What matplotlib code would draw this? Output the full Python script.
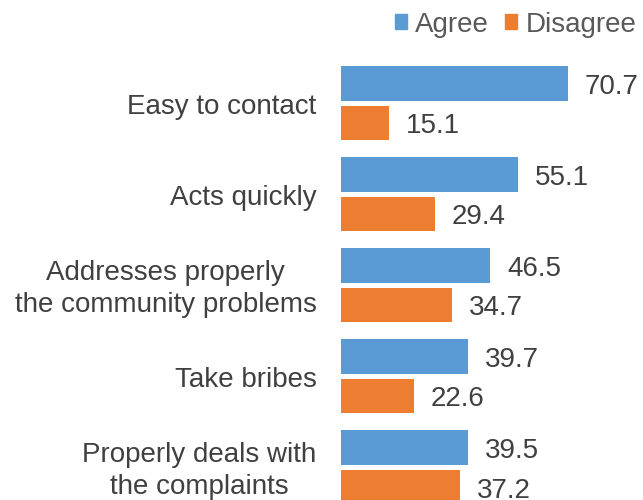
import matplotlib
matplotlib.use("Agg")
import matplotlib.pyplot as plt
from matplotlib.patches import Patch

categories = ["Easy to contact", "Acts quickly",
              "Addresses properly\nthe community problems",
              "Take bribes",
              "Properly deals with\nthe complaints"]
agree = [70.7, 55.1, 46.5, 39.7, 39.5]
disagree = [15.1, 29.4, 34.7, 22.6, 37.2]
series_names = ["Agree", "Disagree"]

BLUE = "#5B9BD5"
ORANGE = "#ED7D31"
TXT = "#404040"
W, H = 643, 500

plt.rcParams['font.family'] = ['Liberation Sans', 'DejaVu Sans']

fig = plt.figure(figsize=(W / 100, H / 100), dpi=100)
left = 341
ax = fig.add_axes([left / W, 0, (W - left) / W, 1])

pitch = 91.05
g0 = 103.1
ymin = (0 - g0) / pitch
ymax = (H - g0) / pitch
ax.set_ylim(ymax, ymin)
ax.set_xlim(0, (W - left) / 3.21)

h = 34.5 / pitch
off = (34.5 + 5) / 2 / pitch
pos = list(range(len(categories)))
b1 = ax.barh([p - off for p in pos], agree, height=h, color=BLUE)
b2 = ax.barh([p + off for p in pos], disagree, height=h, color=ORANGE)

for bars, vals in ((b1, agree), (b2, disagree)):
    for b, v in zip(bars, vals):
        ax.annotate(f"{v:.1f}", xy=(b.get_width(), b.get_y() + b.get_height() / 2),
                    xytext=(12, -2.5), textcoords="offset points",
                    ha="left", va="center", fontsize=20, color=TXT,
                    annotation_clip=False)

for p, c in zip(pos, categories):
    ax.annotate(c, xy=(0, p), xytext=(-17.5, -2.5), textcoords="offset points",
                ha="right", va="center", multialignment="center",
                fontsize=20, color=TXT, linespacing=1.3, annotation_clip=False)

for s in ax.spines.values():
    s.set_visible(False)
ax.set_xticks([])
ax.set_yticks([])

handles = [Patch(color=BLUE, label=series_names[0]), Patch(color=ORANGE, label=series_names[1])]
fig.legend(handles=handles, loc="upper right", bbox_to_anchor=(639 / W, 1 - 9 / H),
           ncol=2, frameon=False, fontsize=20, labelcolor="#595959",
           handlelength=0.45, handleheight=0.45, handletextpad=0.3, columnspacing=0.55,
           borderpad=0.1, borderaxespad=0)

fig.savefig("out.png", dpi=100)
